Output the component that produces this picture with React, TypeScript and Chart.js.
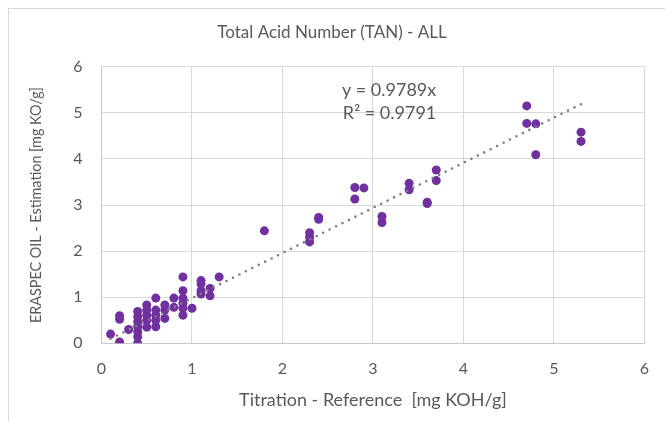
import { useEffect, useRef } from "react";
import { Chart, registerables } from "chart.js";

Chart.register(...registerables);

// Titration reference values [mg KOH/g] and ERASPEC OIL estimates [mg KOH/g], paired by index
const titrationRef = [
  0.1,
  0.2, 0.2, 0.2,
  0.3,
  0.4, 0.4, 0.4, 0.4, 0.4, 0.4, 0.4,
  0.5, 0.5, 0.5, 0.5, 0.5,
  0.6, 0.6, 0.6, 0.6, 0.6,
  0.7, 0.7, 0.7,
  0.8, 0.8,
  0.9, 0.9, 0.9, 0.9, 0.9, 0.9,
  1.0,
  1.1, 1.1, 1.1, 1.1,
  1.2, 1.2,
  1.3,
  1.8,
  2.3, 2.3, 2.3,
  2.4, 2.4,
  2.8, 2.8,
  2.9,
  3.1, 3.1,
  3.4, 3.4,
  3.6, 3.6,
  3.7, 3.7,
  4.7, 4.7,
  4.8, 4.8,
  5.3, 5.3,
];
const eraspecEst = [
  0.2,
  0.03, 0.52, 0.6,
  0.3,
  0.0, 0.14, 0.25, 0.36, 0.47, 0.58, 0.69,
  0.35, 0.5, 0.61, 0.72, 0.83,
  0.36, 0.5, 0.61, 0.72, 0.98,
  0.54, 0.72, 0.83,
  0.78, 0.98,
  0.61, 0.76, 0.87, 0.98, 1.14, 1.44,
  0.76,
  1.07, 1.14, 1.29, 1.36,
  1.03, 1.19,
  1.44,
  2.44,
  2.2, 2.3, 2.4,
  2.69, 2.73,
  3.13, 3.38,
  3.37,
  2.62, 2.75,
  3.33, 3.47,
  3.03, 3.06,
  3.53, 3.76,
  4.77, 5.15,
  4.09, 4.76,
  4.38, 4.58,
];

// Linear trendline through the origin
const trendSlope = 0.9789;
const trendR2 = 0.9791;
const trendRange = [0.1, 5.3];

const xTicks = [0, 1, 2, 3, 4, 5, 6];
const yTicks = [0, 1, 2, 3, 4, 5, 6];

const chartTitle = "Total Acid Number (TAN) - ALL";
const xTitle = "Titration - Reference  [mg KOH/g]";
const yTitle = "ERASPEC OIL - Estimation [mg KO/g]";

const FONT = "Lato, 'Open Sans', sans-serif";
const TEXT = "#595959";
const GRID = "#d9d9d9";
const PURPLE = "#7030a0";

const W = 665;
const H = 421;

const textPlugin = {
  id: "texts",
  afterDraw(chart: any) {
    const { ctx, scales, chartArea } = chart;
    ctx.save();
    ctx.fillStyle = TEXT;
    ctx.textBaseline = "middle";

    // chart title
    ctx.font = `17px ${FONT}`;
    ctx.textAlign = "center";
    ctx.fillText(chartTitle, 332, 33);

    // vertical axis title, condensed to the plot height
    ctx.save();
    ctx.translate(36, (chartArea.top + chartArea.bottom) / 2);
    ctx.rotate(-Math.PI / 2);
    ctx.font = `16px ${FONT}`;
    ctx.fillText(yTitle, 0, 0, 236);
    ctx.restore();

    // trendline equation label
    const xs = scales.x;
    const ys = scales.y;
    const lx = xs.getPixelForValue(3.7);
    ctx.textAlign = "right";
    ctx.font = `18px ${FONT}`;
    ctx.fillText(`y = ${trendSlope}x`, lx, ys.getPixelForValue(5.49));
    ctx.fillText(`R² = ${trendR2}`, lx, ys.getPixelForValue(4.99));
    ctx.restore();
  },
};

export default function App() {
  const ref = useRef<HTMLCanvasElement | null>(null);

  useEffect(() => {
    if (!ref.current) return;
    const points = titrationRef.map((x, i) => ({ x, y: eraspecEst[i] }));
    const trend = trendRange.map((x) => ({ x, y: trendSlope * x }));

    const chart = new Chart(ref.current, {
      type: "scatter",
      data: {
        datasets: [
          {
            label: "TAN",
            data: points,
            backgroundColor: PURPLE,
            borderColor: PURPLE,
            pointRadius: 4.5,
            pointBorderWidth: 0,
            order: 2,
          },
          {
            type: "line",
            label: "Trend",
            data: trend,
            borderColor: "#7f7f7f",
            borderWidth: 2.6,
            borderDash: [0, 7.2],
            borderCapStyle: "round",
            pointRadius: 0,
            fill: false,
            order: 1,
          } as any,
        ],
      },
      options: {
        responsive: false,
        animation: false,
        devicePixelRatio: 1,
        layout: { padding: { left: 0, top: 66.7, right: 17, bottom: 0 } },
        plugins: {
          legend: { display: false },
          tooltip: { enabled: false },
          title: { display: false },
        },
        scales: {
          x: {
            type: "linear",
            min: 0,
            max: 6,
            afterBuildTicks: (s: any) => {
              s.ticks = xTicks.map((v) => ({ value: v }));
            },
            afterFit: (s: any) => {
              s.height = H - 343.3;
            },
            grid: { color: GRID, lineWidth: 1, drawTicks: false },
            border: { color: "#c8c8c8", width: 1 },
            ticks: {
              color: TEXT,
              font: { family: FONT, size: 16 },
              padding: 16,
            },
            title: {
              display: true,
              text: xTitle,
              color: TEXT,
              font: { family: FONT, size: 18 },
              padding: { top: 0, bottom: 10 },
            },
          },
          y: {
            type: "linear",
            min: 0,
            max: 6,
            afterBuildTicks: (s: any) => {
              s.ticks = yTicks.map((v) => ({ value: v }));
            },
            afterFit: (s: any) => {
              s.width = 101.5;
            },
            grid: { color: GRID, lineWidth: 1, drawTicks: false },
            border: { color: "#c8c8c8", width: 1 },
            ticks: {
              color: TEXT,
              font: { family: FONT, size: 16 },
              padding: 19,
            },
          },
        },
      },
      plugins: [textPlugin],
    });
    return () => chart.destroy();
  }, []);

  return (
    <div
      style={{
        position: "absolute",
        left: 0,
        top: 0,
        width: W,
        height: H,
        overflow: "hidden",
        background: "#ffffff",
      }}
    >
      <div
        style={{
          position: "absolute",
          left: 8,
          top: 8,
          width: W + 40,
          height: H + 40,
          border: "1px solid #d9d9d9",
          boxSizing: "border-box",
        }}
      />
      <canvas
        ref={ref}
        width={W}
        height={H}
        style={{ position: "absolute", left: 0, top: 0, width: W, height: H }}
      />
    </div>
  );
}
